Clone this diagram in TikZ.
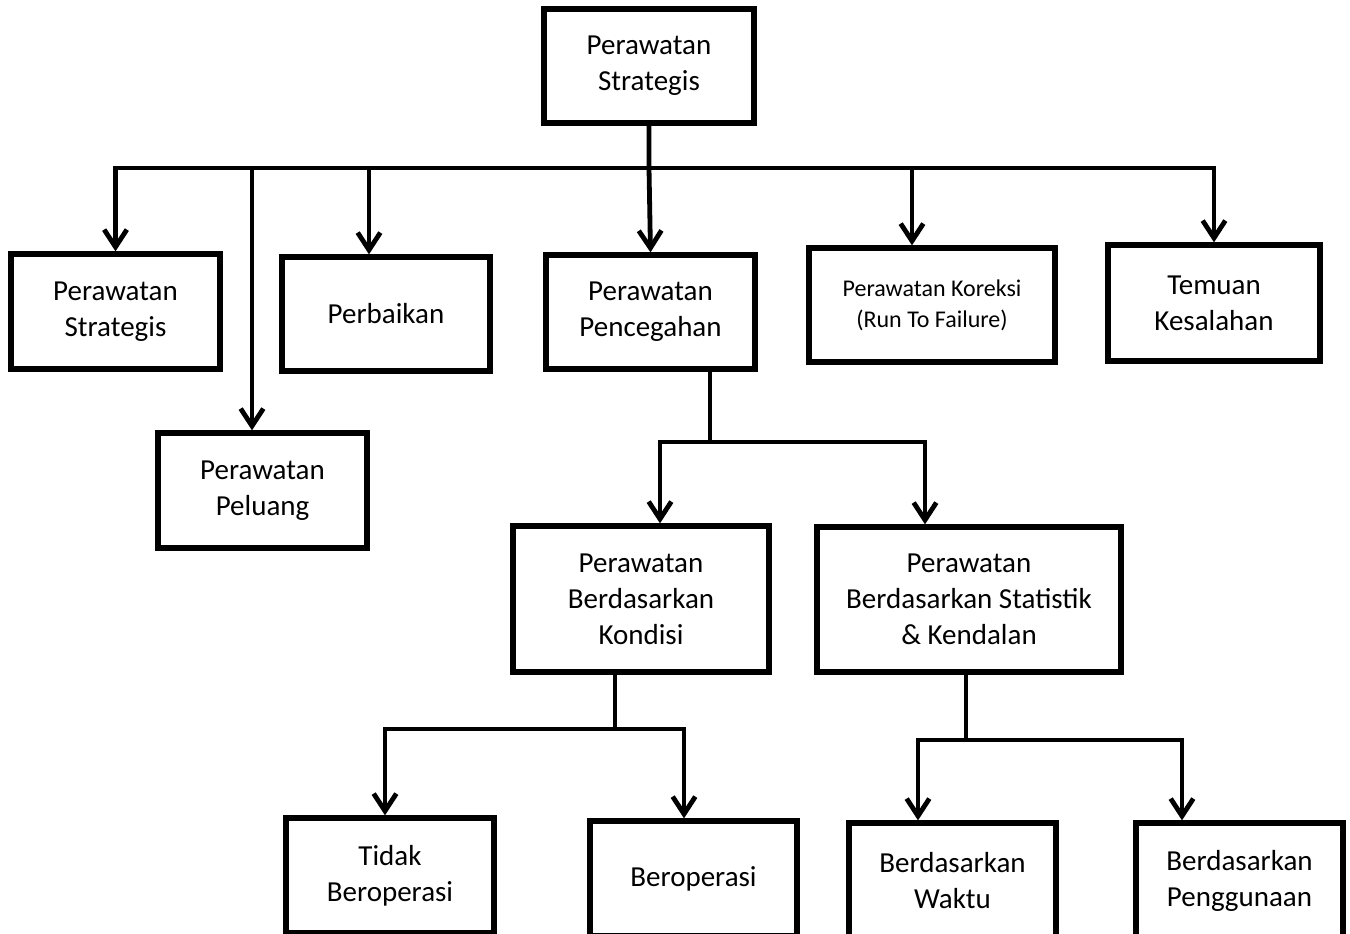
\documentclass[tikz,border=0pt]{standalone}
\usepackage{fontspec}
\setmainfont{Carlito}
\usetikzlibrary{arrows.meta}
\tikzset{
  box/.style 2 args={draw, line width=4pt, rectangle, inner sep=0pt, align=center,
    minimum width=#1*0.75pt, minimum height=#2*0.75pt,
    font=\fontsize{21.75}{27}\selectfont},
  wire/.style={line width=3.6pt},
  arr/.style={wire, -{Straight Barb[length=13pt,width=17pt,line width=3.6pt]}},
}
\begin{document}
\begin{tikzpicture}[x=0.75pt,y=-0.75pt]
\clip (0,0) rectangle (1350,933);
\fill[white] (0,0) rectangle (1350,933);

% boxes
\node[box={210}{114}] (top) at (649,66) {Perawatan\\Strategis};
\node[box={209}{115}] (strat) at (115.5,311.5) {Perawatan\\Strategis};
\node[box={209}{115}] (peluang) at (262.5,490.5) {Perawatan\\Peluang};
\node[box={208}{114}] (perbaikan) at (386,314) {Perbaikan};
\node[box={209}{114}] (cegah) at (650.5,312) {Perawatan\\Pencegahan};
\node[box={246}{114}, font=\fontsize{18}{23.25}\selectfont] (koreksi) at (932,305) {Perawatan Koreksi\\(Run To Failure)};
\node[box={212}{116}] (temuan) at (1214,303) {Temuan\\Kesalahan};
\node[box={256}{146}] (kondisi) at (641,599) {Perawatan\\Berdasarkan\\Kondisi};
\node[box={304}{145}] (statistik) at (969,599.5) {Perawatan\\Berdasarkan Statistik\\\& Kendalan};
\node[box={208}{115}] (tidak) at (390,875.5) {Tidak\\Beroperasi};
\node[box={207}{115}] (operasi) at (693.5,878.5) {Beroperasi};
\node[box={207}{115}] (waktu) at (952.5,880.5) {Berdasarkan\\Waktu};
\node[box={207}{115}] (guna) at (1239.5,880.5) {Berdasarkan\\Penggunaan};

% junction points of the connectors
\coordinate (bus) at (649,168);
\coordinate (busP) at (252,168);
\coordinate (busR) at (369,168);
\coordinate (busK) at (912,168);
\coordinate (j1) at (710,442);
\coordinate (j1L) at (660,442);
\coordinate (j1R) at (925,442);
\coordinate (j2) at (615,729);
\coordinate (j2L) at (385,729);
\coordinate (j2R) at (684,729);
\coordinate (j3) at (966,740);
\coordinate (j3L) at (918,740);
\coordinate (j3R) at (1182,740);

% first level
\draw[arr] (top.south) -- (bus) -- (cegah.north);
\draw[arr] (bus) -| (strat.north);
\draw[arr] (bus) -| (temuan.north);
\draw[arr] (busP) -- (busP |- peluang.north);
\draw[arr] (busR) -- (busR |- perbaikan.north);
\draw[arr] (busK) -- (busK |- koreksi.north);

% preventive maintenance branch
\draw[wire] (j1 |- cegah.south) -- (j1);
\draw[arr] (j1) -- (j1L) -- (j1L |- kondisi.north);
\draw[arr] (j1) -- (j1R) -- (j1R |- statistik.north);

% condition based branch
\draw[wire] (j2 |- kondisi.south) -- (j2);
\draw[arr] (j2) -- (j2L) -- (j2L |- tidak.north);
\draw[arr] (j2) -- (j2R) -- (j2R |- operasi.north);

% statistics based branch
\draw[wire] (j3 |- statistik.south) -- (j3);
\draw[arr] (j3) -- (j3L) -- (j3L |- waktu.north);
\draw[arr] (j3) -- (j3R) -- (j3R |- guna.north);
\end{tikzpicture}
\end{document}
